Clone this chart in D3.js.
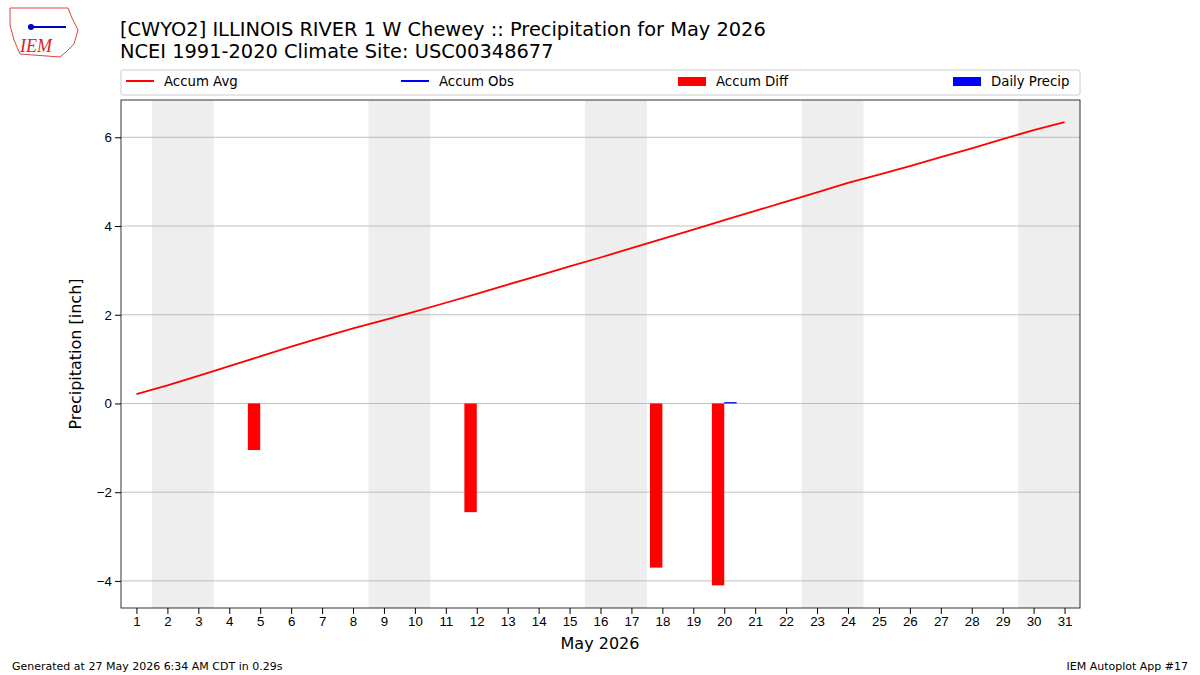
<!DOCTYPE html>
<html><head><meta charset="utf-8">
<script src="https://cdn.jsdelivr.net/npm/d3@7"></script>
<style>body{margin:0;background:#fff}svg{font-family:"DejaVu Sans",sans-serif}</style>
</head><body><svg id="c" width="1200" height="675"></svg>
<script>
const days = d3.range(1,32);
const accumAvg = [0.21,0.41,0.62,0.84,1.06,1.28,1.49,1.69,1.88,2.07,2.27,2.47,2.68,2.88,3.09,3.29,3.50,3.71,3.92,4.13,4.34,4.55,4.76,4.97,5.16,5.35,5.55,5.75,5.96,6.16,6.34];
const diffDays = [5,12,18,20];
const diffVals = [-1.05,-2.45,-3.70,-4.10];
const precipDays = [20];
const precipVals = [0.03];
const weekendStarts = [1.5,8.5,15.5,22.5,29.5];
const yTicks = [-4,-2,0,2,4,6];

const svg = d3.select("#c");
const L=121,R=1080,T=100,B=608;
const x = d3.scaleLinear().domain([0.5,31.5]).range([L,R]);
const y = d3.scaleLinear().domain([-4.61,6.84]).range([B,T]);

svg.selectAll(".we").data(weekendStarts).join("rect")
  .attr("x",d=>x(d)).attr("width",d=>x(Math.min(d+2,31.5))-x(d))
  .attr("y",T).attr("height",B-T).attr("fill","#eeeeee");
svg.selectAll(".gl").data(yTicks).join("line")
  .attr("x1",L).attr("x2",R).attr("y1",d=>y(d)).attr("y2",d=>y(d))
  .attr("stroke","#b0b0b0").attr("stroke-width",0.8);
svg.selectAll(".db").data(diffDays).join("rect")
  .attr("x",(d)=>x(d-0.4)).attr("width",x(0.9)-x(0.5))
  .attr("y",(d,i)=>y(0)).attr("height",(d,i)=>y(diffVals[i])-y(0)).attr("fill","red");
svg.selectAll(".pb").data(precipDays).join("rect")
  .attr("x",d=>x(d)).attr("width",x(0.9)-x(0.5))
  .attr("y",(d,i)=>y(precipVals[i])).attr("height",(d,i)=>y(0)-y(precipVals[i])).attr("fill","blue");
svg.append("path").datum(accumAvg).attr("fill","none").attr("stroke","red").attr("stroke-width",1.8)
  .attr("d",d3.line().x((d,i)=>x(days[i])).y(d=>y(d)));

svg.append("rect").attr("x",L).attr("y",T).attr("width",R-L).attr("height",B-T).attr("fill","none").attr("stroke","#000").attr("stroke-width",0.8);

const xa = svg.append("g").attr("transform",`translate(0,${B})`).call(d3.axisBottom(x).tickValues(days).tickFormat(d3.format("d")).tickSizeOuter(0));
const ya = svg.append("g").attr("transform",`translate(${L},0)`).call(d3.axisLeft(y).tickValues(yTicks).tickFormat(d=>d<0?"\u2212"+(-d):d).tickSizeOuter(0));
[xa,ya].forEach(a=>{a.select(".domain").remove();a.selectAll("text").attr("font-size",13.3).attr("fill","#000");a.selectAll("line").attr("stroke","#000");});

svg.append("text").attr("x",600).attr("y",649).attr("text-anchor","middle").attr("font-size",16).text("May 2026");
svg.append("text").attr("transform",`translate(81,${(T+B)/2}) rotate(-90)`).attr("text-anchor","middle").attr("font-size",16).text("Precipitation [inch]");
svg.append("text").attr("x",120).attr("y",36).attr("font-size",19.4).text("[CWYO2] ILLINOIS RIVER 1 W Chewey :: Precipitation for May 2026");
svg.append("text").attr("x",120).attr("y",58).attr("font-size",19.4).text("NCEI 1991-2020 Climate Site: USC00348677");

svg.append("rect").attr("x",L).attr("y",70).attr("width",R-L).attr("height",25).attr("fill","#fff").attr("stroke","#ccc").attr("rx",2);
const leg=[{t:"Accum Avg",c:"red",k:"l",x:126},{t:"Accum Obs",c:"blue",k:"l",x:401},{t:"Accum Diff",c:"red",k:"p",x:678},{t:"Daily Precip",c:"blue",k:"p",x:953}];
leg.forEach(d=>{
  if(d.k==="l") svg.append("line").attr("x1",d.x).attr("x2",d.x+28).attr("y1",81).attr("y2",81).attr("stroke",d.c).attr("stroke-width",2);
  else svg.append("rect").attr("x",d.x).attr("y",77).attr("width",28).attr("height",9).attr("fill",d.c);
  svg.append("text").attr("x",d.x+38).attr("y",86).attr("font-size",13.3).text(d.t);
});

svg.append("text").attr("x",12).attr("y",670).attr("font-size",11).text("Generated at 27 May 2026 6:34 AM CDT in 0.29s");
svg.append("text").attr("x",1188).attr("y",670).attr("text-anchor","end").attr("font-size",11).text("IEM Autoplot App #17");

svg.append("path").attr("d","M10,8 L68,8 L72,18 L78,30 L74,44 L66,52 L60,57 L20,54 L14,40 L10,25 Z").attr("fill","#fff").attr("stroke","#d44").attr("stroke-width",1);
svg.append("line").attr("x1",28).attr("x2",66).attr("y1",27).attr("y2",27).attr("stroke","#00c").attr("stroke-width",2);
svg.append("circle").attr("cx",31).attr("cy",27).attr("r",3).attr("fill","#00c");
svg.append("text").attr("x",20).attr("y",52).attr("font-size",18).attr("font-family","Liberation Serif").attr("font-style","italic").attr("fill","#d22").text("IEM");
</script></body></html>
